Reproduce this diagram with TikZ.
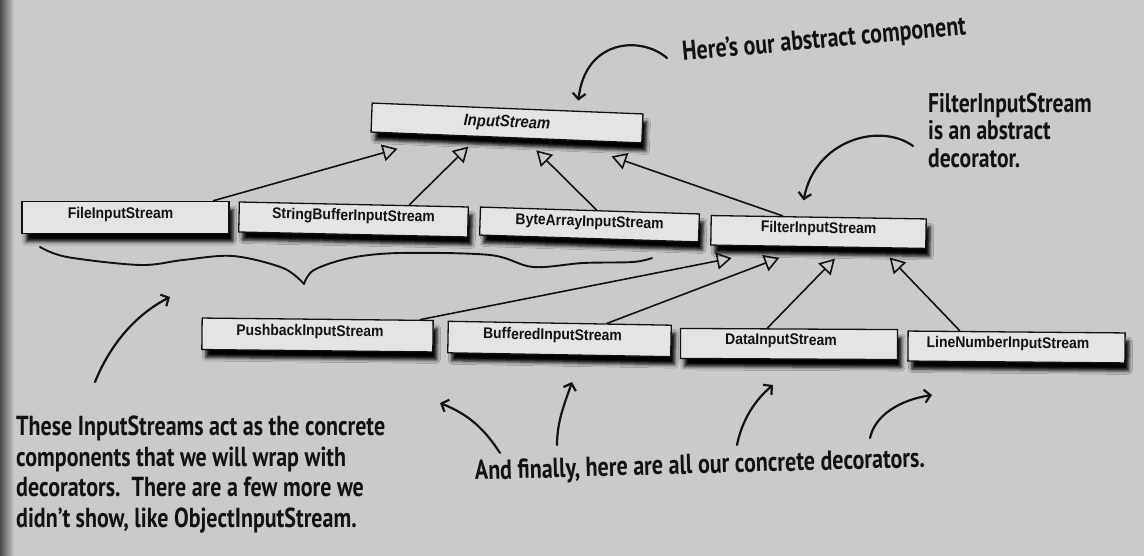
\documentclass[tikz,border=0pt]{standalone}
\usepackage{fontspec}
\setmainfont{Liberation Sans}
\newfontfamily\boxfont[FakeStretch=0.9]{Liberation Sans}
\newfontfamily\handfont[FakeStretch=0.8]{PT Sans}
\usetikzlibrary{arrows.meta,calc,shadows.blur}
\definecolor{bg}{HTML}{CACACA}
\definecolor{edge}{HTML}{4A4A4A}
\definecolor{boxfill}{HTML}{E4E4E4}
\definecolor{ink}{HTML}{121212}
\tikzset{
  cls/.style={draw=ink, line width=1.3pt, fill=boxfill, inner sep=0pt,
    font=\boxfont\bfseries\fontsize{15.5}{18}\selectfont, text=ink,
    text height=11pt, text depth=9.2pt,
    blur shadow={shadow xshift=4pt, shadow yshift=-8pt, shadow blur radius=3.5pt, shadow opacity=100}},
  inherit/.style={draw=ink, line width=1.6pt, -{Triangle[open, length=15pt, width=17pt]}},
  hand/.style={draw=ink, line width=2.2pt, line cap=round, -{Straight Barb[length=6pt, width=13pt]}},
  brace/.style={draw=ink, line width=1.9pt, line cap=round, line join=round},
  note/.style={font=\handfont\bfseries\fontsize{27.5}{30.5}\selectfont, text=ink, inner sep=0pt, align=left}
}
\begin{document}
\begin{tikzpicture}[x=1pt,y=-1pt]
\useasboundingbox (0,0) rectangle (1144,556);
\fill[bg] (0,0) rectangle (1144,556);
\shade[left color=edge, right color=bg] (0,0) rectangle (14,556);

% classes
\node[cls, font=\boxfont\bfseries\itshape\fontsize{16.5}{19}\selectfont, text height=12pt, text depth=3.5pt,
      minimum width=271pt, minimum height=29pt, rotate=-2.3] (ins) at (507,123) {InputStream};
\node[cls, minimum width=207pt, minimum height=32pt] (file) at (125.5,217.5) {\kern-10pt FileInputStream};
\node[cls, minimum width=229pt, minimum height=30pt, rotate=-1.25] (sbuf) at (353.5,219.5) {StringBufferInputStream};
\node[cls, minimum width=219pt, minimum height=28pt, rotate=-1.8, text depth=7pt] (barr) at (589.5,224.5) {ByteArrayInputStream};
\node[cls, minimum width=215pt, minimum height=29.5pt, rotate=-0.9] (filt) at (818.5,232) {FilterInputStream};
\node[cls, minimum width=231pt, minimum height=31.5pt, rotate=-0.6] (push) at (317.5,335) {\kern-15pt PushbackInputStream};
\node[cls, minimum width=223pt, minimum height=31.5pt, rotate=-1] (buff) at (559.5,339) {\kern-14pt BufferedInputStream};
\node[cls, minimum width=217pt, minimum height=30pt, rotate=-0.3] (data) at (789,344) {\kern-16pt DataInputStream};
\node[cls, minimum width=217pt, minimum height=30pt, rotate=-0.5] (lnum) at (1016.5,347) {\kern-17pt LineNumberInputStream};

% inheritance
\draw[inherit] ($(file.north west)!0.92!(file.north east)$) -- ($(ins.south west)!0.10!(ins.south east)+(0,15)$);
\draw[inherit] ($(sbuf.north west)!0.74!(sbuf.north east)$) -- ($(ins.south west)!0.36!(ins.south east)+(0,10)$);
\draw[inherit] ($(barr.north west)!0.53!(barr.north east)$) -- ($(ins.south west)!0.61!(ins.south east)+(0,11)$);
\draw[inherit] ($(filt.north west)!0.335!(filt.north east)$) -- ($(ins.south west)!0.886!(ins.south east)+(0,14)$);
\draw[inherit] ($(push.north west)!0.94!(push.north east)$) -- ($(filt.south west)!0.10!(filt.south east)+(0,12)$);
\draw[inherit] ($(buff.north west)!0.71!(buff.north east)$) -- ($(filt.south west)!0.32!(filt.south east)+(0,11)$);
\draw[inherit] ($(data.north west)!0.40!(data.north east)$) -- ($(filt.south west)!0.577!(filt.south east)+(0,11)$);
\draw[inherit] ($(lnum.north west)!0.24!(lnum.north east)$) -- ($(filt.south west)!0.83!(filt.south east)+(0,9)$);

% brace under the concrete components
\draw[brace] plot[smooth, tension=0.55] coordinates {(40,247) (67,257) (140,265) (183,260) (233,256) (283,268) (304,284)};
\draw[brace] plot[smooth, tension=0.55] coordinates {(304,284) (314,270) (350,258) (400,253) (490,255) (533,267) (583,263) (633,262) (652,258)};

% notes
\node[note, anchor=base west, rotate=5.3] (abs) at (683,61) {Here’s our abstract component};
\node[note, font=\handfont\bfseries\fontsize{27}{27.5}\selectfont, anchor=north west] (fnote) at (928,93) {FilterInputStream\\is an abstract\\decorator.};
\node[note, anchor=north west] (cnote) at (16,416) {These InputStreams act as the concrete\\components that we will wrap with\\decorators.\ \ There are a few more we\\didn’t show, like ObjectInputStream.};
\node[note, anchor=base west, rotate=1.65] (dnote) at (475,480) {And finally, here are all our concrete decorators.};

% hand-drawn arrows
\coordinate (absS) at (667,58);
\coordinate (fltS) at (913,146);
\coordinate (cmpS) at (95,382);
\coordinate (cmpE) at (170,297);
\coordinate (d1S) at (500,453);
\coordinate (d1E) at (440,403);
\coordinate (d2S) at (557,445);
\coordinate (d2E) at (572,382);
\coordinate (d3S) at (737,445);
\coordinate (d3E) at (773,385);
\coordinate (d4S) at (870,438);
\coordinate (d4E) at (932,395);
\draw[hand] (absS) .. controls (640,35) and (585,40) .. ($(ins.north west)!0.76!(ins.north east)+(0,-10)$);
\draw[hand] (fltS) .. controls (880,122) and (815,140) .. ($(filt.north west)!0.43!(filt.north east)+(0,-16)$);
\draw[hand] (cmpS) .. controls (110,345) and (135,315) .. (cmpE);
\draw[hand] (d1S) .. controls (485,430) and (470,415) .. (d1E);
\draw[hand] (d2S) .. controls (557,420) and (566,400) .. (d2E);
\draw[hand] (d3S) .. controls (742,420) and (755,400) .. (d3E);
\draw[hand] (d4S) .. controls (875,415) and (900,400) .. (d4E);
\end{tikzpicture}
\end{document}
